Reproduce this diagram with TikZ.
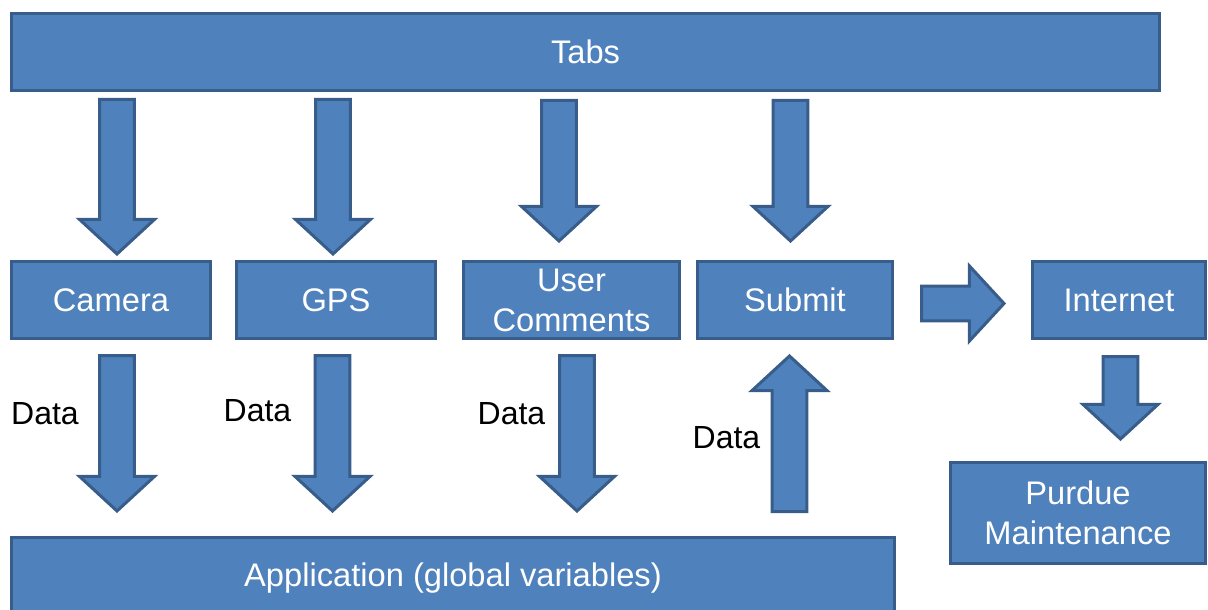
\documentclass[tikz,border=0pt]{standalone}
\usepackage{fontspec}
\setmainfont{Liberation Sans}
\usetikzlibrary{positioning,calc}
\definecolor{boxblue}{HTML}{4F81BD}
\definecolor{edgeblue}{HTML}{385D8A}

% fat outlined arrow from #1 (tail) to #2 (tip)
\newcommand{\blockarrow}[2]{%
  \path (#1) coordinate (ba-a) (#2) coordinate (ba-b)
    ($(ba-b)!25.9pt!(ba-a)$) coordinate (ba-h);
  \draw[fatarrow] ($(ba-a)!13.1pt!90:(ba-b)$) -- ($(ba-h)!13.1pt!90:(ba-b)$)
    -- ($(ba-h)!28.1pt!90:(ba-b)$) -- (ba-b) -- ($(ba-h)!28.1pt!-90:(ba-b)$)
    -- ($(ba-h)!13.1pt!-90:(ba-b)$) -- ($(ba-a)!13.1pt!-90:(ba-b)$) -- cycle;}

\begin{document}
\begin{tikzpicture}[
    x=0.75pt, y=-0.75pt,
    box/.style={rectangle, draw=edgeblue, fill=boxblue, line width=2.25pt, align=center,
      inner sep=0pt, minimum width=149.25pt, minimum height=57.75pt, text=white,
      font=\fontsize{24.5}{30}\selectfont},
    fatarrow/.style={draw=edgeblue, fill=boxblue, line width=2.25pt, line join=miter},
    datalbl/.style={inner sep=0pt, text=black, font=\fontsize{24}{28}\selectfont}
  ]
    \useasboundingbox (0,0) rectangle (1208,610);
    \node[box, minimum width=861pt] (tabs) at (585.5,52) {Tabs};
    \node[box] (cam) at (111,300) {Camera};
    \node[box, right=17.25pt of cam] (gps) {GPS};
    \node[box, minimum width=162pt, right=18.75pt of gps] (uc) {User\\Comments};
    \node[box, minimum width=146.25pt, right=11.25pt of uc] (sub) {Submit};
    \node[box, minimum width=129.75pt, right=102.75pt of sub] (int) {Internet};
    \node[box, minimum width=191.25pt, minimum height=75.75pt] (purdue) at (1078,513) {Purdue\\Maintenance};
    \node[box, minimum width=662.25pt, minimum height=60.75pt] (app) at (453,578) {Application (global variables)};
    \node[datalbl] (d1) at (45,414) {Data};
    \node[datalbl] (d2) at (257.5,411) {Data};
    \node[datalbl] (d3) at (511.5,414) {Data};
    \node[datalbl] (d4) at (726.5,438) {Data};
    \blockarrow{$(tabs.south -| cam.north)+(6,7.5)$}{$(cam.north)+(6,-6)$}
    \blockarrow{$(tabs.south -| gps.north)+(-3,7.5)$}{$(gps.north)+(-3,-6)$}
    \blockarrow{$(tabs.south -| uc.north)+(-12.5,8.5)$}{$(uc.north)+(-12.5,-19)$}
    \blockarrow{$(tabs.south -| sub.north)+(-4.5,8.5)$}{$(sub.north)+(-4.5,-19)$}
    \blockarrow{$(cam.south)+(6,15.5)$}{$(app.north -| cam.south)+(6,-25)$}
    \blockarrow{$(gps.south)+(-3.5,15.5)$}{$(app.north -| gps.south)+(-3.5,-25)$}
    \blockarrow{$(uc.south)+(5.5,15.5)$}{$(app.north -| uc.south)+(5.5,-25)$}
    \blockarrow{$(app.north -| sub.south)+(-5.5,-24.5)$}{$(sub.south)+(-5.5,16)$}
    \blockarrow{$(sub.east)+(27.5,3.5)$}{$(int.west)+(-27,3.5)$}
    \blockarrow{$(int.south)+(1.5,16.5)$}{$(purdue.north -| int.south)+(1.5,-22)$}
  \end{tikzpicture}
\end{document}
